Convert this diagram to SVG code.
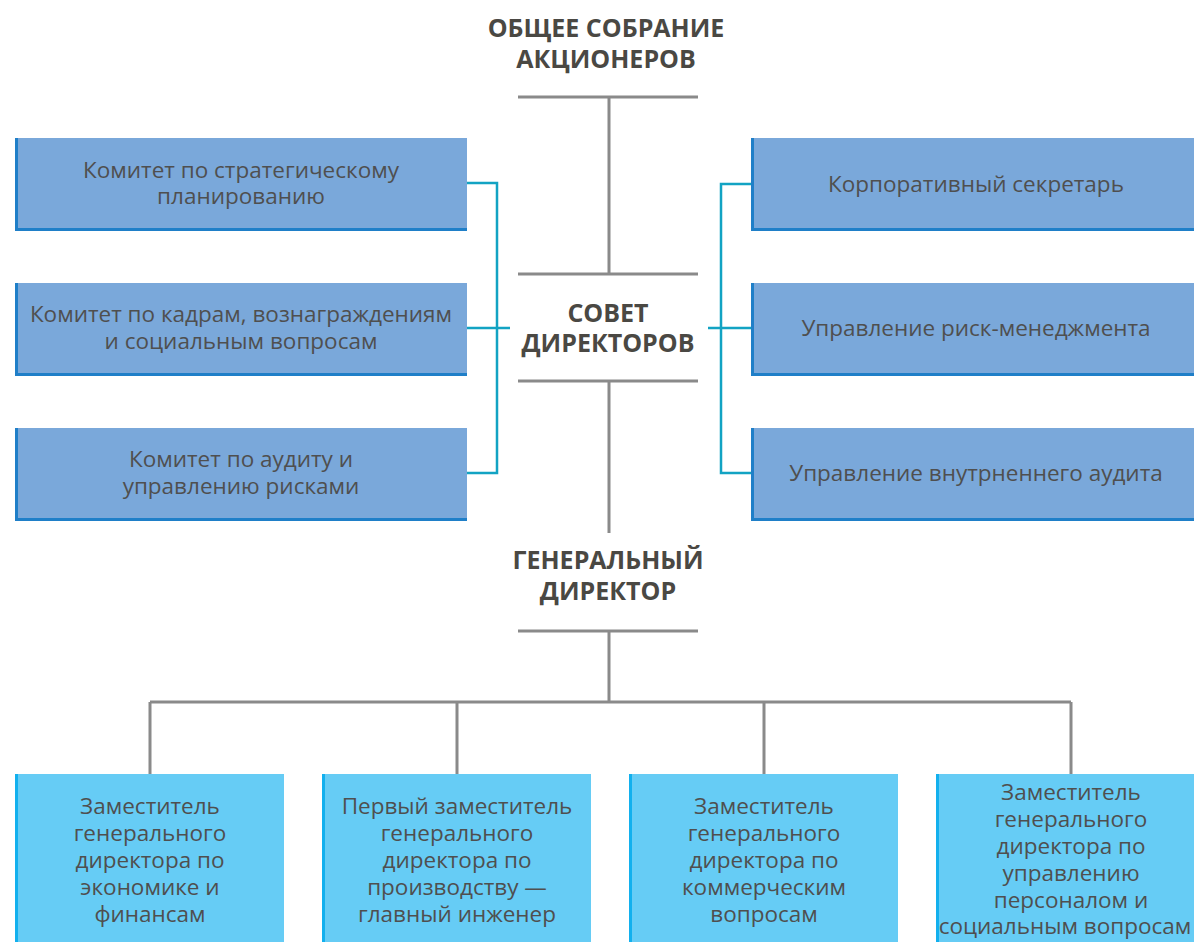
<svg xmlns="http://www.w3.org/2000/svg" width="1194" height="942" viewBox="0 0 1194 942">
<style>
.title{font-family:"Open Sans","Liberation Sans",sans-serif;font-weight:bold;font-size:25px;fill:#4a4843;text-anchor:middle}
.t{font-family:"Open Sans","Liberation Sans",sans-serif;font-size:22.5px;fill:#4f4f4f;text-anchor:middle}
.bx{fill:#7aa8da}
.bxb{fill:#1f7fc8}
.lb{fill:#66ccf5}
.lbb{fill:#12b0ee}
.gray{stroke:#8a8a8a;stroke-width:3;fill:none}
.teal{stroke:#12a3c3;stroke-width:2.5;fill:none}
</style>
<rect width="1194" height="942" fill="#ffffff"/>
<g id="connectors">
<path class="gray" d="M518 97H698M609 97V274M518 274H698M518 381H698M609 381V533M518 631H698M609 631V702M150 702H1071M150 702V774M457 702V774M764 702V774M1071 702V774"/>
<path class="teal" d="M467 183H497V473H467M467 328H510M751 184H721V473H751M751 328H708"/>
</g>
<g id="n_gsm"><text class="title" x="606" y="37">ОБЩЕЕ СОБРАНИЕ</text><text class="title" x="606" y="68">АКЦИОНЕРОВ</text></g>
<g id="n_sd"><text class="title" x="608" y="322">СОВЕТ</text><text class="title" x="608" y="352">ДИРЕКТОРОВ</text></g>
<g id="n_gd"><text class="title" x="608" y="569">ГЕНЕРАЛЬНЫЙ</text><text class="title" x="608" y="600">ДИРЕКТОР</text></g>
<g id="n_l1"><rect class="bx" x="15" y="138" width="452" height="92"/><rect class="bxb" x="15" y="138" width="3" height="92"/><rect class="bxb" x="15" y="228" width="452" height="3"/><text class="t" x="241" y="178">Комитет по стратегическому</text><text class="t" x="241" y="204">планированию</text></g>
<g id="n_l2"><rect class="bx" x="15" y="283" width="452" height="92"/><rect class="bxb" x="15" y="283" width="3" height="92"/><rect class="bxb" x="15" y="373" width="452" height="3"/><text class="t" x="241" y="322">Комитет по кадрам, вознаграждениям</text><text class="t" x="241" y="349">и социальным вопросам</text></g>
<g id="n_l3"><rect class="bx" x="15" y="428" width="452" height="92"/><rect class="bxb" x="15" y="428" width="3" height="92"/><rect class="bxb" x="15" y="518" width="452" height="3"/><text class="t" x="241" y="467">Комитет по аудиту и</text><text class="t" x="241" y="494">управлению рисками</text></g>
<g id="n_r1"><rect class="bx" x="751" y="138" width="443" height="92"/><rect class="bxb" x="751" y="138" width="3" height="92"/><rect class="bxb" x="751" y="228" width="443" height="3"/><text class="t" x="976" y="192">Корпоративный секретарь</text></g>
<g id="n_r2"><rect class="bx" x="751" y="283" width="443" height="92"/><rect class="bxb" x="751" y="283" width="3" height="92"/><rect class="bxb" x="751" y="373" width="443" height="3"/><text class="t" x="976" y="336">Управление риск-менеджмента</text></g>
<g id="n_r3"><rect class="bx" x="751" y="428" width="443" height="92"/><rect class="bxb" x="751" y="428" width="3" height="92"/><rect class="bxb" x="751" y="518" width="443" height="3"/><text class="t" x="976" y="481">Управление внутрненнего аудита</text></g>
<g id="n_b1"><rect class="lb" x="15" y="774" width="269" height="168"/><rect class="lbb" x="15" y="774" width="3" height="168"/><text class="t" x="150" y="814">Заместитель</text><text class="t" x="150" y="841">генерального</text><text class="t" x="150" y="868">директора по</text><text class="t" x="150" y="895">экономике и</text><text class="t" x="150" y="922">финансам</text></g>
<g id="n_b2"><rect class="lb" x="322" y="774" width="269" height="168"/><rect class="lbb" x="322" y="774" width="3" height="168"/><text class="t" x="457" y="814">Первый заместитель</text><text class="t" x="457" y="841">генерального</text><text class="t" x="457" y="868">директора по</text><text class="t" x="457" y="895">производству —</text><text class="t" x="457" y="922">главный инженер</text></g>
<g id="n_b3"><rect class="lb" x="629" y="774" width="269" height="168"/><rect class="lbb" x="629" y="774" width="3" height="168"/><text class="t" x="764" y="814">Заместитель</text><text class="t" x="764" y="841">генерального</text><text class="t" x="764" y="868">директора по</text><text class="t" x="764" y="895">коммерческим</text><text class="t" x="764" y="922">вопросам</text></g>
<g id="n_b4"><rect class="lb" x="936" y="774" width="258" height="168"/><rect class="lbb" x="936" y="774" width="3" height="168"/><text class="t" x="1071" y="800">Заместитель</text><text class="t" x="1071" y="827">генерального</text><text class="t" x="1071" y="854">директора по</text><text class="t" x="1071" y="881">управлению</text><text class="t" x="1071" y="908">персоналом и</text><text class="t" x="1065" y="934">социальным вопросам</text></g>
</svg>
